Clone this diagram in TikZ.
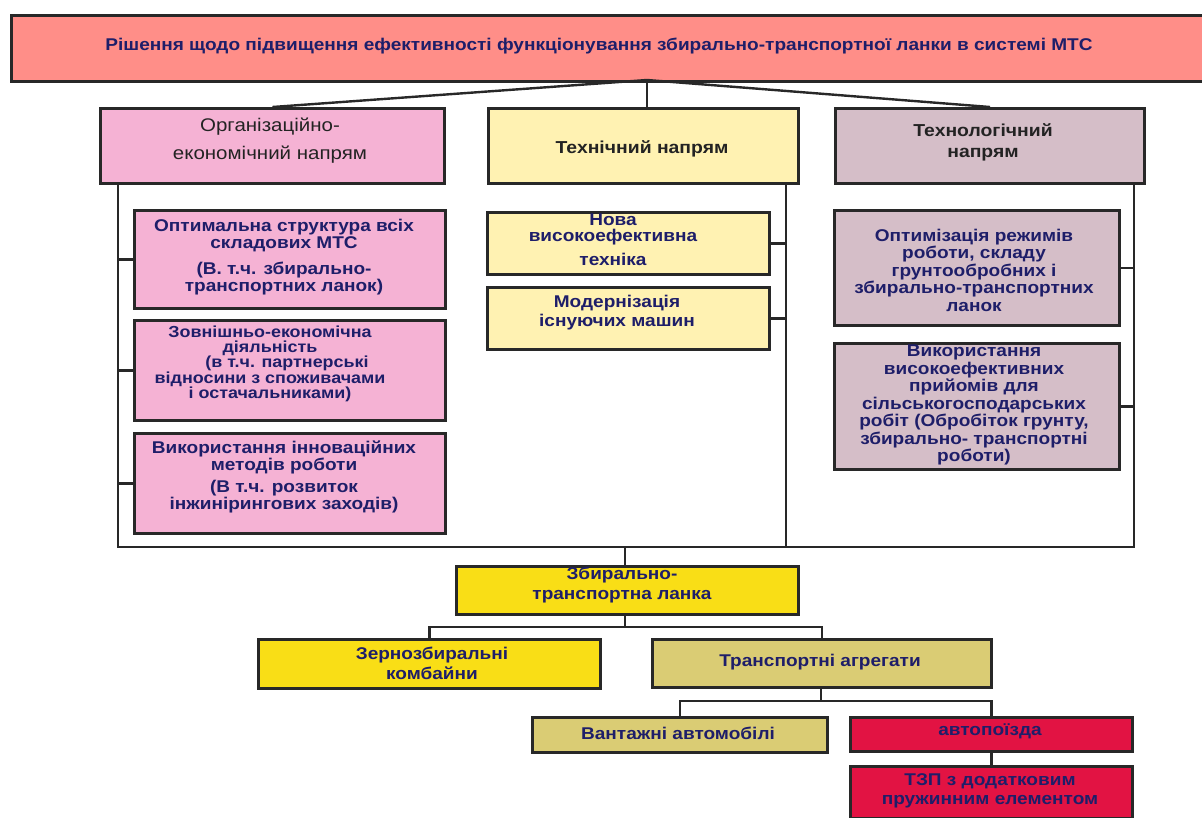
\documentclass[tikz,border=0pt]{standalone}
\usepackage{fontspec}
\setmainfont{Liberation Sans}[FakeStretch=1.12]
\definecolor{topc}{RGB}{255,142,136}
\definecolor{orgc}{RGB}{245,178,212}
\definecolor{techc}{RGB}{255,242,178}
\definecolor{tnc}{RGB}{213,190,200}
\definecolor{yelc}{RGB}{249,222,22}
\definecolor{khc}{RGB}{218,204,116}
\definecolor{redc}{RGB}{226,19,67}
\definecolor{navy}{RGB}{30,30,105}
\definecolor{hdc}{RGB}{35,35,35}
\definecolor{bord}{RGB}{40,40,40}
\tikzset{
  bx/.style={draw=bord, line width=3pt, inner sep=0pt, anchor=north west},
  txt/.style={inner sep=0pt, align=center, text=navy, font=\bfseries\fontsize{17}{17}\selectfont},
  hd/.style={inner sep=0pt, align=center, text=hdc, font=\bfseries\fontsize{17.3}{21}\selectfont},
  ln/.style={draw=bord, line width=2.4pt}
}
\begin{document}
\begin{tikzpicture}[x=1pt,y=-1pt]
\useasboundingbox (0,0) rectangle (1202,817);
% boxes
\node[bx, fill=topc, minimum width=1200pt, minimum height=66pt] (top) at (10,14) {};
\node[bx, fill=orgc, minimum width=344pt, minimum height=75pt] (org) at (99,107) {};
\node[bx, fill=techc, minimum width=310pt, minimum height=75pt] (tech) at (487,107) {};
\node[bx, fill=tnc, minimum width=309pt, minimum height=75pt] (tn) at (834,107) {};
\node[bx, fill=orgc, minimum width=311pt, minimum height=98pt] (o1) at (133,209) {};
\node[bx, fill=orgc, minimum width=311pt, minimum height=100pt] (o2) at (133,319) {};
\node[bx, fill=orgc, minimum width=311pt, minimum height=100pt] (o3) at (133,432) {};
\node[bx, fill=techc, minimum width=282pt, minimum height=62pt] (te1) at (486,211) {};
\node[bx, fill=techc, minimum width=282pt, minimum height=62pt] (te2) at (486,286) {};
\node[bx, fill=tnc, minimum width=285pt, minimum height=115pt] (tn1) at (833,209) {};
\node[bx, fill=tnc, minimum width=285pt, minimum height=126pt] (tn2) at (833,342) {};
\node[bx, fill=yelc, minimum width=342pt, minimum height=48pt] (zt) at (455,565) {};
\node[bx, fill=yelc, minimum width=342pt, minimum height=49pt] (zk) at (257,638) {};
\node[bx, fill=khc, minimum width=339pt, minimum height=48pt] (ta) at (651,638) {};
\node[bx, fill=khc, minimum width=295pt, minimum height=35pt] (va) at (531,716) {};
\node[bx, fill=redc, minimum width=282pt, minimum height=34pt] (ap) at (849,716) {};
\node[bx, fill=redc, minimum width=282pt, minimum height=52pt] (tzp) at (849,765) {};
% texts
\node[txt] (topt) at (599,46) {Рішення щодо підвищення ефективності функціонування збирально-транспортної ланки в системі МТС};
\node[hd, font=\fontsize{18.3}{28}\selectfont] (orgt) at (270,141) {Організаційно-\\економічний напрям};
\node[hd] (techt) at (642,149) {Технічний напрям};
\node[hd] (tnt) at (983,142) {Технологічний\\напрям};
\node[txt] (o1t) at (284,257) {Оптимальна структура всіх\\складових МТС\\[9pt](В. т.ч. збирально-\\транспортних ланок)};
\node[txt, font=\bfseries\fontsize{16}{14.8}\selectfont] (o2t) at (270,364) {Зовнішньо-економічна\\діяльність\\\hspace*{34pt}(в т.ч. партнерські\\відносини з споживачами\\і остачальниками)};
\node[txt] (o3t) at (284,477) {Використання інноваційних\\методів роботи\\[5pt](В т.ч. розвиток\\інжинірингових заходів)};
\node[txt, font=\bfseries\fontsize{17}{16}\selectfont] (te1t) at (613,240) {Нова\\високоефективна\\[8pt]техніка};
\node[txt, font=\bfseries\fontsize{17}{19}\selectfont] (te2t) at (617,313) {Модернізація\\існуючих машин};
\node[txt, font=\bfseries\fontsize{17}{17.5}\selectfont] (tn1t) at (974,270) {Оптимізація режимів\\роботи, складу\\грунтообробних і\\збирально-транспортних\\ланок};
\node[txt, font=\bfseries\fontsize{17}{17.5}\selectfont] (tn2t) at (974,405) {Використання\\високоефективних\\прийомів для\\сільськогосподарських\\робіт (Обробіток грунту,\\збирально- транспортні\\роботи)};
\node[txt, font=\bfseries\fontsize{17}{20}\selectfont] (ztt) at (622,585) {Збирально-\\транспортна ланка};
\node[txt, font=\bfseries\fontsize{17}{20}\selectfont] (zkt) at (432,663) {Зернозбиральні\\комбайни};
\node[txt] (tat) at (820,662) {Транспортні агрегати};
\node[txt] (vat) at (678,733) {Вантажні автомобілі};
\node[txt] (apt) at (990,731) {автопоїзда};
\node[txt, font=\bfseries\fontsize{17}{19}\selectfont] (tzpt) at (990,791) {ТЗП з додатковим\\пружинним елементом};
% connector coordinates
\coordinate (j0) at (647,80);
\coordinate (ob) at (118,547);
\coordinate (teb) at (786,547);
\coordinate (tnb) at (1134,547);
\coordinate (zj) at (625,547);
\coordinate (zh) at (625,627);
\coordinate (th) at (821,701);
% connectors
\draw[ln] (org.north) -- (j0) -- (tn.north);
\draw[ln] (j0) -- (j0 |- tech.north);
\draw[ln] (org.south -| ob) -- (ob) -- (tnb) -- (tn.south -| tnb);
\draw[ln] (tech.south -| teb) -- (teb);
\draw[ln] (o1.west) -- (o1.west -| ob);
\draw[ln] (o2.west) -- (o2.west -| ob);
\draw[ln] (o3.west) -- (o3.west -| ob);
\draw[ln] (te1.east) -- (te1.east -| teb);
\draw[ln] (te2.east) -- (te2.east -| teb);
\draw[ln] (tn1.east) -- (tn1.east -| tnb);
\draw[ln] (tn2.east) -- (tn2.east -| tnb);
\draw[ln] (zj) -- (zj |- zt.north);
\draw[ln] (zj |- zt.south) -- (zh);
\draw[ln] (zk.north) -- (zk.north |- zh) -- (ta.north |- zh) -- (ta.north);
\draw[ln] (th |- ta.south) -- (th);
\draw[ln] (va.north) -- (va.north |- th) -- (ap.north |- th) -- (ap.north);
\draw[ln] (ap.south) -- (tzp.north);
\end{tikzpicture}
\end{document}
